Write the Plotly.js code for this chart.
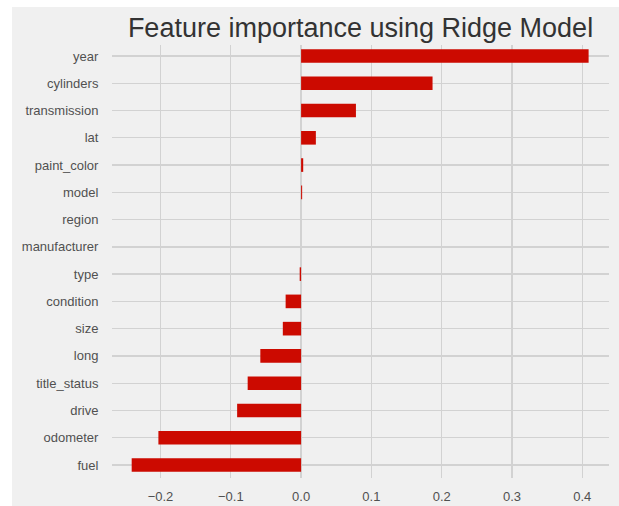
<!DOCTYPE html>
<html>
<head>
<meta charset="utf-8">
<script src="https://cdn.plot.ly/plotly-3.0.1.min.js"></script>
<style>
  html, body { margin: 0; padding: 0; background: #ffffff; width: 619px; height: 506px; overflow: hidden; }
  #chart { position: absolute; left: 12px; top: 7px; width: 607px; height: 499px; }
</style>
</head>
<body>
<div id="chart"></div>
<script>
// Features, top to bottom
const features = ["year", "cylinders", "transmission", "lat", "paint_color", "model", "region",
  "manufacturer", "type", "condition", "size", "long", "title_status", "drive", "odometer", "fuel"];
// Ridge coefficients
const importance = [0.409, 0.187, 0.078, 0.021, 0.003, 0.0015, 0.0, 0.0, -0.002, -0.022, -0.026,
  -0.058, -0.076, -0.091, -0.203, -0.241];
const xTickVals = [-0.2, -0.1, 0.0, 0.1, 0.2, 0.3, 0.4];
const xTickText = ["\u22120.2", "\u22120.1", "0.0", "0.1", "0.2", "0.3", "0.4"];

const trace = {
  type: "bar",
  orientation: "h",
  y: features,
  x: importance,
  width: 0.5,
  marker: { color: "#cc0a00", line: { width: 0 } },
  hoverinfo: "x+y"
};

const layout = {
  width: 607,
  height: 499,
  margin: { l: 100, r: 10, t: 38, b: 28 },
  paper_bgcolor: "#f0f0f0",
  plot_bgcolor: "#f0f0f0",
  font: { family: "Liberation Sans, Arial, sans-serif", color: "#505050", size: 13 },
  title: {
    text: "Feature importance using Ridge Model",
    font: { family: "Liberation Sans, Arial, sans-serif", size: 27, color: "#333333" },
    xref: "paper", x: 0.5, xanchor: "center",
    yref: "container", y: 0.958, yanchor: "middle"
  },
  showlegend: false,
  bargap: 0.5,
  xaxis: {
    range: [-0.269, 0.438],
    tickvals: xTickVals,
    ticktext: xTickText,
    showgrid: true,
    gridcolor: "#d2d2d2",
    gridwidth: 1.3,
    zeroline: false,
    showline: false,
    ticks: "outside",
    ticklen: 6,
    tickcolor: "rgba(0,0,0,0)",
    tickfont: { size: 13, color: "#505050" }
  },
  yaxis: {
    type: "category",
    range: [15.477, -0.403],
    showgrid: true,
    gridcolor: "#d2d2d2",
    gridwidth: 1.3,
    zeroline: false,
    showline: false,
    ticks: "outside",
    ticklen: 10,
    tickcolor: "rgba(0,0,0,0)",
    tickfont: { size: 13, color: "#505050" }
  }
};

Plotly.newPlot("chart", [trace], layout, { displayModeBar: false, staticPlot: true });
</script>
</body>
</html>
